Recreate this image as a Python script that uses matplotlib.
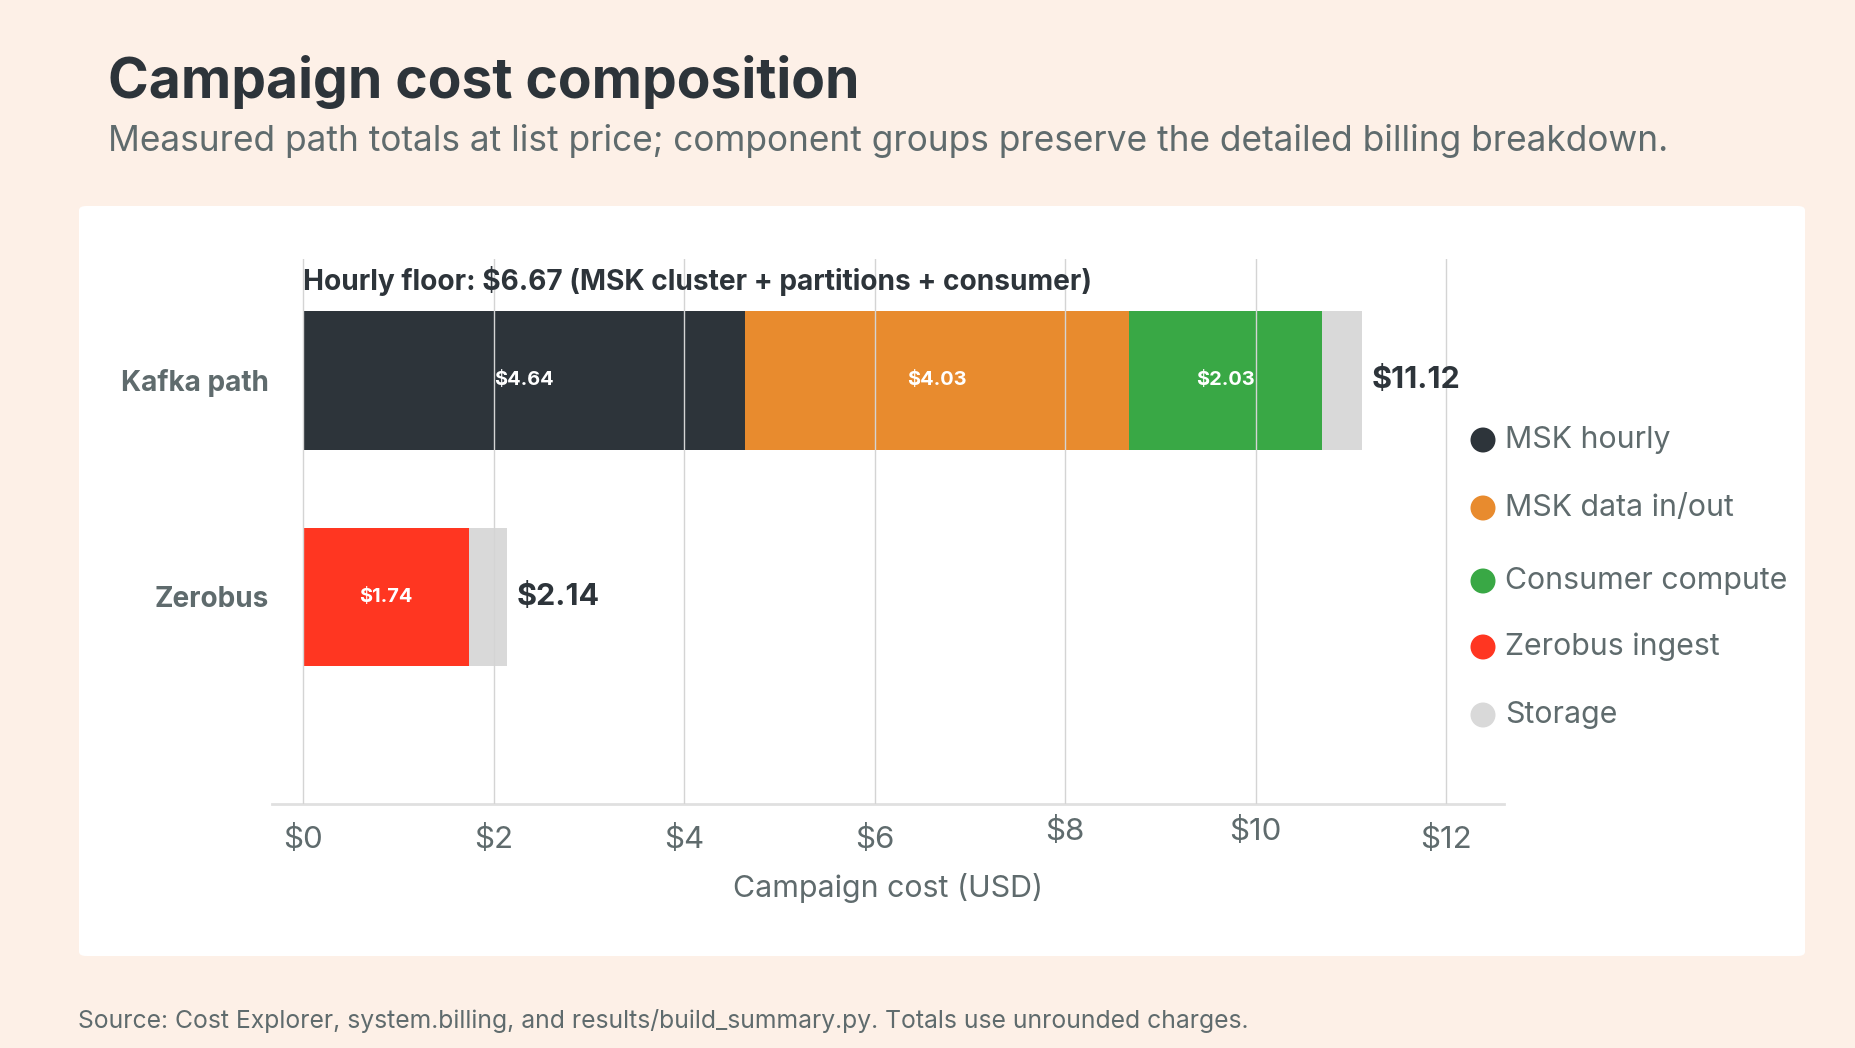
import matplotlib.pyplot as plt
from matplotlib.patches import FancyBboxPatch, Ellipse
from matplotlib.transforms import ScaledTranslation
import numpy as np

# data
paths = ["Kafka path", "Zerobus"]
components = ["MSK hourly", "MSK data in/out", "Consumer compute", "Zerobus ingest", "Storage"]
colors = ["#2d343a", "#e88b2e", "#39a845", "#ff3621", "#d9d9d9"]
totals = [11.12, 2.14]
msk_hourly = [4.64, 0.0]
msk_data = [4.03, 0.0]
consumer = [2.03, 0.0]
zerobus_ingest = [0.0, 1.74]
storage = [totals[0] - 4.64 - 4.03 - 2.03, totals[1] - 1.74]
hourly_floor = 6.67
xticks = [0, 2, 4, 6, 8, 10, 12]

plt.rcParams['font.family'] = ['Inter', 'DejaVu Sans']
DARK = "#2d343a"
GRAY = "#5f6b6d"
BG = "#fdf0e7"

W, H = 1855, 1048
fig = plt.figure(figsize=(W / 100, H / 100), dpi=100)
fig.patch.set_facecolor(BG)

# white panel
panel = FancyBboxPatch((79 / W, 1 - 956 / H), (1805 - 79) / W, (956 - 206) / H,
                       boxstyle="round,pad=0,rounding_size=0.004",
                       transform=fig.transFigure, facecolor="white", edgecolor="none", zorder=-5)
fig.patches.append(panel)

fig.text(108 / W, 1 - 82 / H, "Campaign cost composition", fontsize=39.7, fontweight="bold",
         color=DARK, va="center", ha="left")
fig.text(108 / W, 1 - 141 / H,
         "Measured path totals at list price; component groups preserve the detailed billing breakdown.",
         fontsize=25.4, color=GRAY, va="center", ha="left")
fig.text(78 / W, 1 - 1021 / H,
         "Source: Cost Explorer, system.billing, and results/build_summary.py. Totals use unrounded charges.",
         fontsize=17.8, color=GRAY, va="center", ha="left")

ax = fig.add_axes([272 / W, 1 - 804 / H, (1504 - 272) / W, (804 - 259) / H])
ax.set_facecolor("none")
ax.set_zorder(2)

y = np.arange(len(paths))
series = [msk_hourly, msk_data, consumer, zerobus_ingest, storage]
left = np.zeros(len(paths))
for vals, col in zip(series, colors):
    vals = np.array(vals)
    ax.barh(y, vals, left=left, height=0.64, color=col, zorder=1)
    for i, v in enumerate(vals):
        if v > 1.0 and col != "#d9d9d9":
            ax.text(left[i] + v / 2, y[i], f"${v:.2f}", color="white", fontsize=14.4,
                    fontweight="bold", ha="center", va="center", zorder=3)
    left += vals

for i, t in enumerate(totals):
    ax.text(t + 0.1, y[i], f"${t:.2f}", fontsize=22, fontweight="bold", color=DARK,
            ha="left", va="center", zorder=3)

ax.text(0, -0.46, f"Hourly floor: ${hourly_floor:.2f} (MSK cluster + partitions + consumer)",
        fontsize=20.2, fontweight="bold", color=DARK, ha="left", va="center")

ax.set_xlim(-0.33, 12.61)
ax.set_ylim(1.956, -0.56)
ax.set_yticks(y)
ax.set_yticklabels(paths, fontsize=20.1, fontweight="bold", color=GRAY)
ax.set_xticks(xticks)
ax.set_xticklabels([f"${t}" for t in xticks], fontsize=22.5, color=GRAY)
ax.tick_params(axis="both", length=0)
ax.tick_params(axis="x", pad=15)
ax.tick_params(axis="y", pad=2)
ax.grid(axis="x", color="#d4d4d4", linewidth=1, zorder=2)
ax.set_axisbelow(False)
for s in ["top", "right", "left"]:
    ax.spines[s].set_visible(False)
ax.spines["bottom"].set_color("#e0e0e0")
ax.spines["bottom"].set_linewidth(2)
ax.set_xlabel("Campaign cost (USD)", fontsize=21.9, color=GRAY, labelpad=14)

# bump $8 and $10 labels up slightly as in the source
for lab in ax.get_xticklabels()[4:6]:
    lab.set_transform(lab.get_transform() + ScaledTranslation(0, 8 / 100, fig.dpi_scale_trans))

# legend, drawn manually
legend_y = [440, 508, 581, 647, 715]
for name, col, ly in zip(components, colors, legend_y):
    fig.patches.append(Ellipse((1483 / W, 1 - ly / H), 25 / W, 25 / H, transform=fig.transFigure,
                               facecolor=col, edgecolor="none"))
    fig.text(1505 / W, 1 - ly / H, name, fontsize=21.8, color=GRAY, va="center", ha="left")

fig.savefig("out.png", dpi=100, facecolor=BG)
